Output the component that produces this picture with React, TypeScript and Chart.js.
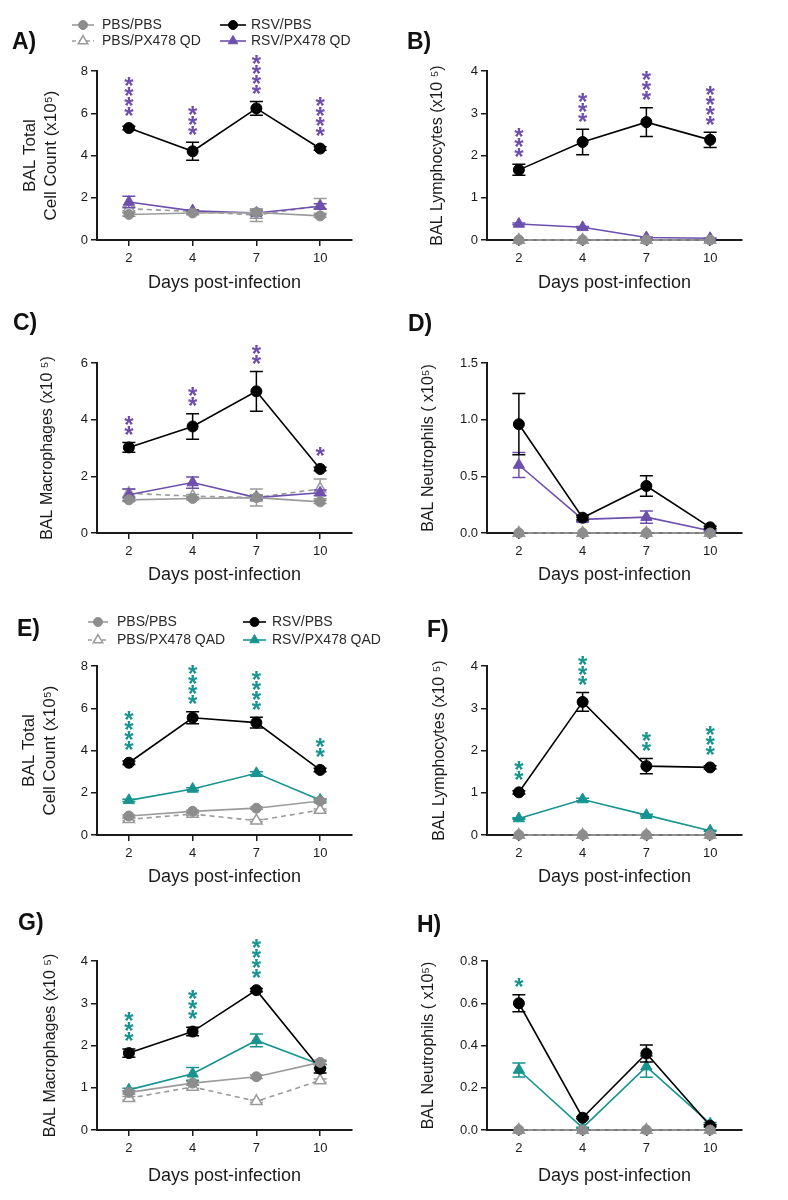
import React, { useEffect, useRef } from "react";
import { Chart, registerables } from "chart.js";

Chart.register(...registerables);

const FONT = "'Liberation Sans', Arial, Helvetica, sans-serif";
const INK = "#1b1b1b";
const GRAY_FILL = "#8d8d8d";
const GRAY_LINE = "#9b9b9b";
const PURPLE = "#6d4fae";
const TEAL = "#17948f";

// ---------- shared categories / labels ----------
const days = ["2", "4", "7", "10"];
const xAxisTitle = "Days post-infection";
const labelsQD = ["PBS/PBS", "PBS/PX478 QD", "RSV/PBS", "RSV/PX478 QD"];
const labelsQAD = ["PBS/PBS", "PBS/PX478 QAD", "RSV/PBS", "RSV/PX478 QAD"];

// ---------- Panel A: BAL total cell count (QD) ----------
const A_yTicks = [0, 2, 4, 6, 8];
const A_pbsPbs = [1.21, 1.28, 1.3, 1.14];
const A_pbsPbsErr = [0.08, 0.05, 0.12, 0.06];
const A_pbsPx = [1.48, 1.35, 1.18, 1.62];
const A_pbsPxErr = [0.1, 0.06, 0.3, 0.35];
const A_rsvPbs = [5.3, 4.2, 6.23, 4.33];
const A_rsvPbsErr = [0.08, 0.43, 0.33, 0.08];
const A_rsvPx = [1.8, 1.38, 1.28, 1.6];
const A_rsvPxErr = [0.27, 0.05, 0.1, 0.12];
const A_stars = [4, 3, 4, 4];

// ---------- Panel B: BAL lymphocytes (QD) ----------
const B_yTicks = [0, 1, 2, 3, 4];
const B_pbsPbs = [0, 0, 0, 0];
const B_pbsPbsErr = [0, 0, 0, 0];
const B_pbsPx = [0, 0, 0, 0];
const B_pbsPxErr = [0, 0, 0, 0];
const B_rsvPbs = [1.66, 2.32, 2.79, 2.37];
const B_rsvPbsErr = [0.13, 0.3, 0.34, 0.18];
const B_rsvPx = [0.38, 0.3, 0.06, 0.04];
const B_rsvPxErr = [0.02, 0.02, 0.01, 0.01];
const B_stars = [3, 3, 3, 4];

// ---------- Panel C: BAL macrophages (QD) ----------
const C_yTicks = [0, 2, 4, 6];
const C_pbsPbs = [1.17, 1.22, 1.25, 1.1];
const C_pbsPbsErr = [0.06, 0.05, 0.1, 0.06];
const C_pbsPx = [1.4, 1.3, 1.25, 1.56];
const C_pbsPxErr = [0.15, 0.06, 0.3, 0.35];
const C_rsvPbs = [3.02, 3.76, 5.0, 2.26];
const C_rsvPbsErr = [0.17, 0.45, 0.7, 0.06];
const C_rsvPx = [1.35, 1.78, 1.25, 1.42];
const C_rsvPxErr = [0.2, 0.2, 0.08, 0.1];
const C_stars = [2, 2, 2, 1];

// ---------- Panel D: BAL neutrophils (QD) ----------
const D_yTicks = [0, 0.5, 1.0, 1.5];
const D_pbsPbs = [0, 0, 0, 0];
const D_pbsPbsErr = [0, 0, 0, 0];
const D_pbsPx = [0, 0, 0, 0];
const D_pbsPxErr = [0, 0, 0, 0];
const D_rsvPbs = [0.96, 0.135, 0.415, 0.05];
const D_rsvPbsErr = [0.27, 0.02, 0.09, 0.01];
const D_rsvPx = [0.6, 0.12, 0.14, 0.02];
const D_rsvPxErr = [0.11, 0.02, 0.055, 0.005];
const D_stars = [0, 0, 0, 0];

// ---------- Panel E: BAL total cell count (QAD) ----------
const E_yTicks = [0, 2, 4, 6, 8];
const E_pbsPbs = [0.9, 1.12, 1.27, 1.61];
const E_pbsPbsErr = [0.05, 0.05, 0.05, 0.08];
const E_pbsPx = [0.74, 0.99, 0.68, 1.18];
const E_pbsPxErr = [0.05, 0.05, 0.05, 0.05];
const E_rsvPbs = [3.42, 5.55, 5.32, 3.08];
const E_rsvPbsErr = [0.08, 0.28, 0.25, 0.08];
const E_rsvPx = [1.64, 2.18, 2.92, 1.66];
const E_rsvPxErr = [0.05, 0.06, 0.08, 0.05];
const E_stars = [4, 4, 4, 2];

// ---------- Panel F: BAL lymphocytes (QAD) ----------
const F_yTicks = [0, 1, 2, 3, 4];
const F_pbsPbs = [0, 0, 0, 0];
const F_pbsPbsErr = [0, 0, 0, 0];
const F_pbsPx = [0, 0, 0, 0];
const F_pbsPxErr = [0, 0, 0, 0];
const F_rsvPbs = [1.01, 3.15, 1.63, 1.6];
const F_rsvPbsErr = [0.04, 0.22, 0.18, 0.04];
const F_rsvPx = [0.39, 0.84, 0.47, 0.1];
const F_rsvPxErr = [0.02, 0.03, 0.02, 0.01];
const F_stars = [2, 3, 2, 3];

// ---------- Panel G: BAL macrophages (QAD) ----------
const G_yTicks = [0, 1, 2, 3, 4];
const G_pbsPbs = [0.89, 1.11, 1.26, 1.6];
const G_pbsPbsErr = [0.04, 0.04, 0.04, 0.05];
const G_pbsPx = [0.75, 1.02, 0.68, 1.17];
const G_pbsPxErr = [0.04, 0.04, 0.03, 0.04];
const G_rsvPbs = [1.82, 2.33, 3.31, 1.45];
const G_rsvPbsErr = [0.1, 0.1, 0.04, 0.1];
const G_rsvPx = [0.95, 1.33, 2.12, 1.55];
const G_rsvPxErr = [0.04, 0.15, 0.15, 0.08];
const G_stars = [3, 3, 4, 0];

// ---------- Panel H: BAL neutrophils (QAD) ----------
const H_yTicks = [0, 0.2, 0.4, 0.6, 0.8];
const H_pbsPbs = [0, 0, 0, 0];
const H_pbsPbsErr = [0, 0, 0, 0];
const H_pbsPx = [0, 0, 0, 0];
const H_pbsPxErr = [0, 0, 0, 0];
const H_rsvPbs = [0.6, 0.058, 0.362, 0.02];
const H_rsvPbsErr = [0.04, 0.005, 0.04, 0.005];
const H_rsvPx = [0.284, 0.01, 0.3, 0.03];
const H_rsvPxErr = [0.033, 0.003, 0.05, 0.005];
const H_stars = [1, 0, 0, 0];

// ---------- layout (page coordinates) ----------
type Legend = { rows: number[]; cols: { x1: number; x2: number; tx: number }[] };

const legendA: Legend = {
  rows: [25, 41],
  cols: [
    { x1: 72, x2: 94, tx: 102 },
    { x1: 220, x2: 246, tx: 251 },
  ],
};
const legendE: Legend = {
  rows: [622, 640],
  cols: [
    { x1: 88, x2: 108, tx: 117 },
    { x1: 243, x2: 266, tx: 272 },
  ],
};

const PANELS: any[] = [
  {
    key: "A", box: [0, 0, 394, 300], area: [97, 71, 352, 240], letter: ["A)", 12, 49],
    yTitle: ["BAL Total", "Cell Count (x10⁵)"], yTitleX: 30.5, yTitleSize: 17, xTitleY: 283,
    yTicks: A_yTicks, dec: 0, accent: PURPLE, labels: labelsQD, legend: legendA, stars: A_stars,
    s: [A_pbsPbs, A_pbsPbsErr, A_pbsPx, A_pbsPxErr, A_rsvPbs, A_rsvPbsErr, A_rsvPx, A_rsvPxErr],
  },
  {
    key: "B", box: [394, 0, 394, 300], area: [487, 71, 742, 240], letter: ["B)", 407, 49],
    yTitle: ["BAL Lymphocytes (x10 ⁵)"], yTitleX: 438, yTitleSize: 16, xTitleY: 283,
    yTicks: B_yTicks, dec: 0, accent: PURPLE, labels: labelsQD, legend: null, stars: B_stars,
    s: [B_pbsPbs, B_pbsPbsErr, B_pbsPx, B_pbsPxErr, B_rsvPbs, B_rsvPbsErr, B_rsvPx, B_rsvPxErr],
  },
  {
    key: "C", box: [0, 290, 394, 300], area: [97, 363, 352, 533], letter: ["C)", 13, 330],
    yTitle: ["BAL Macrophages (x10 ⁵)"], yTitleX: 48, yTitleSize: 16, xTitleY: 575,
    yTicks: C_yTicks, dec: 0, accent: PURPLE, labels: labelsQD, legend: null, stars: C_stars,
    s: [C_pbsPbs, C_pbsPbsErr, C_pbsPx, C_pbsPxErr, C_rsvPbs, C_rsvPbsErr, C_rsvPx, C_rsvPxErr],
  },
  {
    key: "D", box: [394, 290, 394, 300], area: [487, 363, 742, 533], letter: ["D)", 408, 331],
    yTitle: ["BAL Neutrophils ( x10⁵)"], yTitleX: 429, yTitleSize: 16, xTitleY: 575,
    yTicks: D_yTicks, dec: 1, accent: PURPLE, labels: labelsQD, legend: null, stars: D_stars,
    s: [D_pbsPbs, D_pbsPbsErr, D_pbsPx, D_pbsPxErr, D_rsvPbs, D_rsvPbsErr, D_rsvPx, D_rsvPxErr],
  },
  {
    key: "E", box: [0, 590, 394, 300], area: [97, 666, 352, 835], letter: ["E)", 17, 636],
    yTitle: ["BAL Total", "Cell Count (x10⁵)"], yTitleX: 29.5, yTitleSize: 17, xTitleY: 877,
    yTicks: E_yTicks, dec: 0, accent: TEAL, labels: labelsQAD, legend: legendE, stars: E_stars,
    s: [E_pbsPbs, E_pbsPbsErr, E_pbsPx, E_pbsPxErr, E_rsvPbs, E_rsvPbsErr, E_rsvPx, E_rsvPxErr],
  },
  {
    key: "F", box: [394, 590, 394, 300], area: [487, 666, 742, 835], letter: ["F)", 427, 637],
    yTitle: ["BAL Lymphocytes (x10 ⁵)"], yTitleX: 440, yTitleSize: 16, xTitleY: 877,
    yTicks: F_yTicks, dec: 0, accent: TEAL, labels: labelsQAD, legend: null, stars: F_stars,
    s: [F_pbsPbs, F_pbsPbsErr, F_pbsPx, F_pbsPxErr, F_rsvPbs, F_rsvPbsErr, F_rsvPx, F_rsvPxErr],
  },
  {
    key: "G", box: [0, 890, 394, 310], area: [97, 961, 352, 1130], letter: ["G)", 18, 930],
    yTitle: ["BAL Macrophages (x10 ⁵)"], yTitleX: 51, yTitleSize: 16, xTitleY: 1176,
    yTicks: G_yTicks, dec: 0, accent: TEAL, labels: labelsQAD, legend: null, stars: G_stars,
    s: [G_pbsPbs, G_pbsPbsErr, G_pbsPx, G_pbsPxErr, G_rsvPbs, G_rsvPbsErr, G_rsvPx, G_rsvPxErr],
  },
  {
    key: "H", box: [394, 890, 394, 310], area: [487, 961, 742, 1130], letter: ["H)", 417, 932],
    yTitle: ["BAL Neutrophils ( x10⁵)"], yTitleX: 429, yTitleSize: 16, xTitleY: 1176,
    yTicks: H_yTicks, dec: 1, accent: TEAL, labels: labelsQAD, legend: null, stars: H_stars,
    s: [H_pbsPbs, H_pbsPbsErr, H_pbsPx, H_pbsPxErr, H_rsvPbs, H_rsvPbsErr, H_rsvPx, H_rsvPxErr],
  },
];

function drawMarker(ctx: any, shape: string, x: number, y: number, r: number, fill: string, stroke: string, lw: number) {
  ctx.save();
  ctx.setLineDash([]);
  ctx.beginPath();
  if (shape === "circle") {
    ctx.arc(x, y, r, 0, Math.PI * 2);
  } else {
    for (let k = 0; k < 3; k++) {
      const a = (k * 2 * Math.PI) / 3;
      const px = x + Math.sin(a) * r;
      const py = y - Math.cos(a) * r;
      if (k === 0) ctx.moveTo(px, py);
      else ctx.lineTo(px, py);
    }
    ctx.closePath();
  }
  ctx.fillStyle = fill;
  ctx.fill();
  ctx.lineWidth = lw;
  ctx.strokeStyle = stroke;
  ctx.stroke();
  ctx.restore();
}

function buildConfig(p: any) {
  const [cl, ct, cw, ch] = p.box;
  const [l, t, r, b] = p.area;
  const yLH = p.yTitleSize * 1.2;
  const xLH = 18 * 1.2;
  const padLeft = p.yTitleX - cl - yLH / 2;
  const yWidth = l - cl - padLeft;
  const padTop = t - ct;
  const padRight = cl + cw - r;
  const scaleBottom = p.xTitleY + xLH / 2;
  const xHeight = scaleBottom - b;
  const padBottom = ct + ch - scaleBottom;
  const yMax = p.yTicks[p.yTicks.length - 1];
  const [pp, ppE, px, pxE, rp, rpE, rx, rxE] = p.s;

  const styles = [
    { shape: "circle", line: GRAY_LINE, fill: GRAY_FILL, stroke: GRAY_FILL, dash: [], r: 5, lw: 1 },
    { shape: "triangle", line: GRAY_LINE, fill: "#ffffff", stroke: GRAY_LINE, dash: [5, 4], r: 6.5, lw: 1.5 },
    { shape: "circle", line: "#000000", fill: "#000000", stroke: "#000000", dash: [], r: 5.5, lw: 1 },
    { shape: "triangle", line: p.accent, fill: p.accent, stroke: p.accent, dash: [], r: 6.5, lw: 1 },
  ];

  const mk = (label: string, data: number[], errors: number[], st: any) => ({
    label,
    data,
    errors,
    errColor: st.stroke,
    borderColor: st.line,
    borderWidth: 1.6,
    borderDash: st.dash,
    pointStyle: st.shape,
    pointRadius: st.r,
    pointBackgroundColor: st.fill,
    pointBorderColor: st.stroke,
    pointBorderWidth: st.lw,
    tension: 0,
    fill: false,
    clip: false,
  });

  // first dataset is drawn on top
  const datasets = [
    mk(p.labels[0], pp, ppE, styles[0]),
    mk(p.labels[2], rp, rpE, styles[2]),
    mk(p.labels[3], rx, rxE, styles[3]),
    mk(p.labels[1], px, pxE, styles[1]),
  ];

  const errorBars = {
    id: "errorBars" + p.key,
    beforeDatasetDraw(chart: any, args: any) {
      const ds = chart.data.datasets[args.index];
      if (!ds.errors) return;
      const ys = chart.scales.y;
      const ctx = chart.ctx;
      ctx.save();
      ctx.setLineDash([]);
      ctx.strokeStyle = ds.errColor;
      ctx.lineWidth = 1.5;
      args.meta.data.forEach((pt: any, i: number) => {
        const v = ds.data[i];
        const e = ds.errors[i];
        if (!e) return;
        const x = pt.x;
        const yTop = ys.getPixelForValue(v + e);
        const yBot = Math.min(ys.getPixelForValue(v - e), chart.chartArea.bottom);
        const cap = 6.5;
        ctx.beginPath();
        ctx.moveTo(x, yTop);
        ctx.lineTo(x, yBot);
        ctx.moveTo(x - cap, yTop);
        ctx.lineTo(x + cap, yTop);
        if (v - e > 0) {
          ctx.moveTo(x - cap, yBot);
          ctx.lineTo(x + cap, yBot);
        }
        ctx.stroke();
      });
      ctx.restore();
    },
  };

  const decor = {
    id: "decor" + p.key,
    afterDatasetsDraw(chart: any) {
      const ctx = chart.ctx;
      const ys = chart.scales.y;
      const xs = chart.scales.x;
      // significance asterisks above RSV/PBS
      ctx.save();
      ctx.fillStyle = p.accent;
      ctx.font = `bold 24px ${FONT}`;
      ctx.textAlign = "center";
      ctx.textBaseline = "alphabetic";
      const m = ctx.measureText("*");
      const mid = (m.actualBoundingBoxAscent - m.actualBoundingBoxDescent) / 2;
      p.stars.forEach((n: number, i: number) => {
        if (!n) return;
        const v = rp[i];
        const e = rpE[i] || 0;
        const x = xs.getPixelForValue(i);
        const base = Math.min(ys.getPixelForValue(v) - 17, ys.getPixelForValue(v + e) - 12);
        for (let k = 0; k < n; k++) {
          ctx.fillText("*", x, base - k * 10 + mid);
        }
      });
      ctx.restore();
    },
    afterDraw(chart: any) {
      const ctx = chart.ctx;
      ctx.save();
      // panel letter
      ctx.fillStyle = "#111111";
      ctx.font = `bold 23px ${FONT}`;
      ctx.textAlign = "left";
      ctx.textBaseline = "alphabetic";
      ctx.fillText(p.letter[0], p.letter[1] - cl, p.letter[2] - ct);
      // legend
      if (p.legend) {
        const order = [
          [0, 0, 0],
          [1, 0, 1],
          [2, 1, 0],
          [3, 1, 1],
        ];
        order.forEach(([si, col, row]) => {
          const st = styles[si];
          const c = p.legend.cols[col];
          const y = p.legend.rows[row] - ct;
          const x1 = c.x1 - cl;
          const x2 = c.x2 - cl;
          ctx.save();
          ctx.strokeStyle = st.line;
          ctx.lineWidth = 1.6;
          ctx.setLineDash(st.dash.length ? [4, 3] : []);
          ctx.beginPath();
          ctx.moveTo(x1, y);
          ctx.lineTo(x2, y);
          ctx.stroke();
          ctx.restore();
          drawMarker(ctx, st.shape, (x1 + x2) / 2, y, st.shape === "circle" ? 4.5 : 5.5, st.fill, st.stroke, st.lw);
          ctx.fillStyle = "#2a2a2a";
          ctx.font = `14px ${FONT}`;
          ctx.textAlign = "left";
          ctx.textBaseline = "middle";
          ctx.fillText(p.labels[si], c.tx - cl, y + 0.5);
        });
      }
      ctx.restore();
    },
  };

  return {
    type: "line",
    data: { labels: days, datasets },
    options: {
      responsive: false,
      animation: false,
      events: [],
      layout: { padding: { left: padLeft, top: padTop, right: padRight, bottom: padBottom } },
      plugins: { legend: { display: false }, tooltip: { enabled: false } },
      scales: {
        x: {
          type: "category",
          offset: true,
          grid: { drawOnChartArea: false, drawTicks: true, tickLength: 6, color: INK, lineWidth: 1.5, offset: false },
          border: { color: INK, width: 2 },
          ticks: { font: { family: FONT, size: 13 }, color: INK, padding: 5, maxRotation: 0, autoSkip: false },
          title: { display: true, text: xAxisTitle, font: { family: FONT, size: 18 }, color: INK, padding: 0 },
          afterFit: (s: any) => {
            s.height = xHeight;
          },
        },
        y: {
          min: 0,
          max: yMax,
          afterBuildTicks: (s: any) => {
            s.ticks = p.yTicks.map((v: number) => ({ value: v }));
          },
          grid: { drawOnChartArea: false, drawTicks: true, tickLength: 6, color: INK, lineWidth: 1.5 },
          border: { color: INK, width: 2 },
          ticks: {
            font: { family: FONT, size: 13 },
            color: INK,
            padding: 3,
            callback: (v: any) => Number(v).toFixed(p.dec),
          },
          title: { display: true, text: p.yTitle, font: { family: FONT, size: p.yTitleSize }, color: INK, padding: 0 },
          afterFit: (s: any) => {
            s.width = yWidth;
          },
        },
      },
    },
    plugins: [errorBars, decor],
  };
}

function Panel({ cfg }: { cfg: any }) {
  const ref = useRef<HTMLCanvasElement | null>(null);
  useEffect(() => {
    const chart = new Chart(ref.current as any, buildConfig(cfg) as any);
    return () => chart.destroy();
  }, [cfg]);
  const [x, y, w, h] = cfg.box;
  return (
    <canvas
      ref={ref}
      width={w}
      height={h}
      style={{ position: "absolute", left: x, top: y, width: w, height: h }}
    />
  );
}

export default function App() {
  return (
    <div style={{ position: "absolute", left: 0, top: 0, width: 788, height: 1200, background: "#ffffff" }}>
      {PANELS.map((p) => (
        <Panel key={p.key} cfg={p} />
      ))}
    </div>
  );
}
